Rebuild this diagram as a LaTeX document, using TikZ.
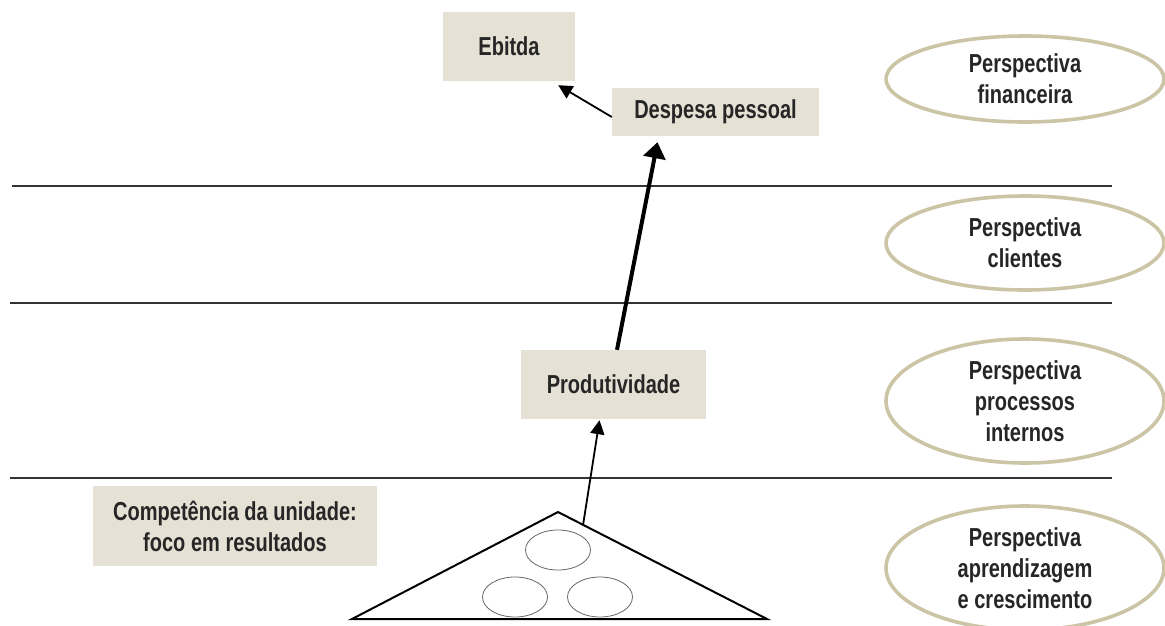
\documentclass[tikz,border=0pt]{standalone}
\usepackage{fontspec}
\setmainfont{Liberation Sans}[FakeStretch=0.77]
\usetikzlibrary{arrows.meta,shapes.geometric,calc}
\definecolor{boxfill}{HTML}{E5E2D5}
\definecolor{ringcol}{HTML}{CBC5A6}
\definecolor{rulecol}{HTML}{333333}
\tikzset{
  lbl/.style={font=\fontsize{26}{31}\selectfont\bfseries, text=black!85, align=center},
  kbox/.style={lbl, fill=boxfill, draw=none, inner sep=0pt},
  persp/.style={lbl, ellipse, draw=ringcol, line width=3.6pt, fill=white, inner sep=0pt},
  sep/.style={draw=rulecol, line width=1.6pt},
  thinarrow/.style={line width=1.8pt, -{Triangle[length=14pt,width=14pt]}},
  thickarrow/.style={line width=4pt, -{Triangle[length=16pt,width=22pt]}},
  mini/.style={draw=black!60, line width=0.8pt}
}
\begin{document}
\begin{tikzpicture}[x=1pt,y=-1pt]
\useasboundingbox[fill=white] (0,0) rectangle (1165,626);

% separator lines
\coordinate (l1a) at (12,186); \coordinate (l1b) at (1112,186);
\coordinate (l2a) at (10,303); \coordinate (l2b) at (1112,303);
\coordinate (l3a) at (10,478); \coordinate (l3b) at (1112,478);
\draw[sep] (l1a) -- (l1b);
\draw[sep] (l2a) -- (l2b);
\draw[sep] (l3a) -- (l3b);

% perspective ellipses
\node[persp, minimum width=278pt, minimum height=86pt] (pf) at (1025,79) {Perspectiva\\financeira};
\node[persp, minimum width=278pt, minimum height=94pt] (pc) at (1025,243) {Perspectiva\\clientes};
\node[persp, minimum width=278pt, minimum height=124pt] (pp) at (1025,401) {Perspectiva\\processos\\internos};
\node[persp, minimum width=278pt, minimum height=124pt] (pa) at (1025,568) {Perspectiva\\aprendizagem\\e crescimento};

% boxes
\node[kbox, minimum width=132pt, minimum height=69pt] (ebitda) at (509,46.5) {Ebitda};
\node[kbox, minimum width=207pt, minimum height=48pt] (desp) at (715.5,112) {Despesa pessoal};
\node[kbox, minimum width=185pt, minimum height=69pt] (prod) at (613.5,384.5) {Produtividade};
\node[kbox, minimum width=284pt, minimum height=80pt] (comp) at (235,526) {Competência da unidade:\\foco em resultados};

% triangle with inner ellipses
\coordinate (ta) at (558,512);
\coordinate (tl) at (352,619);
\coordinate (tr) at (767,619);
\draw[line width=2pt, line join=miter] (ta) -- (tr) -- (tl) -- cycle;
\draw[mini] (558,550) ellipse [x radius=32.5pt, y radius=20pt];
\draw[mini] (515,597) ellipse [x radius=32.5pt, y radius=20pt];
\draw[mini] (600,597) ellipse [x radius=32.5pt, y radius=20pt];
\coordinate (tp) at ($(ta)!0.12!(tr)$);

% connectors
\draw[thinarrow] (tp) -- ([xshift=-14pt,yshift=-1pt]prod.south);
\draw[thickarrow] ([xshift=3.5pt]prod.north) -- ([xshift=-58pt,yshift=-6pt]desp.south);
\draw[thinarrow] ([yshift=-5pt]desp.west) -- ([xshift=-17pt,yshift=-4pt]ebitda.south east);
\end{tikzpicture}
\end{document}
